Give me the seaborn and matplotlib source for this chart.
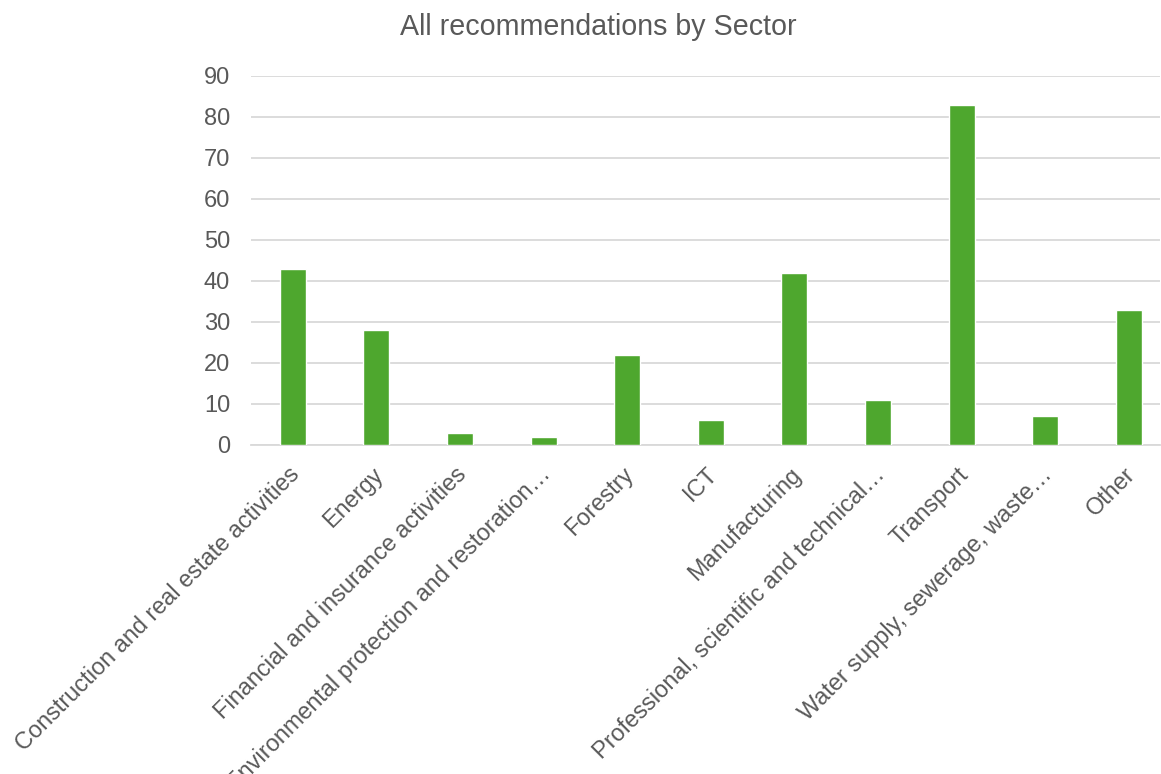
import matplotlib
matplotlib.use("Agg")
import matplotlib.pyplot as plt
import matplotlib.transforms as mtransforms
import seaborn as sns
import pandas as pd

sectors = [
    "Construction and real estate activities",
    "Energy",
    "Financial and insurance activities",
    "Environmental protection and restoration…",
    "Forestry",
    "ICT",
    "Manufacturing",
    "Professional, scientific and technical…",
    "Transport",
    "Water supply, sewerage, waste…",
    "Other",
]
counts = [43, 28, 3, 2, 22, 6, 42, 11, 83, 7, 33]
y_ticks = [0, 10, 20, 30, 40, 50, 60, 70, 80, 90]

df = pd.DataFrame({"Sector": sectors, "Count": counts})

sns.set_theme(style="white")
plt.rcParams["font.family"] = ["Liberation Sans", "DejaVu Sans"]

text_color = "#595959"
grid_color = "#d9d9d9"
bar_color = "#4ea72e"
x_tick_size = 16.9
y_tick_size = 17

W, H = 1161, 774
fig = plt.figure(figsize=(W / 100, H / 100), dpi=100)
left, right, top, bottom = 251, 1160, 76, 445
ax = fig.add_axes([left / W, 1 - bottom / H, (right - left) / W, (bottom - top) / H])

sns.barplot(data=df, x="Sector", y="Count", color=bar_color, width=0.31,
            saturation=1, ax=ax, zorder=3)

ax.set_ylim(0, 90)
ax.set_xlim(-0.5, -0.5 + (right - left) / 83.6)
ax.set_yticks(y_ticks)
ax.yaxis.grid(True, color=grid_color, linewidth=1.3, zorder=0)
ax.set_axisbelow(True)
for s in ["top", "right", "left"]:
    ax.spines[s].set_visible(False)
ax.spines["bottom"].set_color(grid_color)
ax.spines["bottom"].set_linewidth(1.3)
ax.set_xlabel("")
ax.set_ylabel("")
ax.tick_params(axis="x", length=0, colors=text_color, labelsize=x_tick_size, pad=10)
ax.tick_params(axis="y", length=0, colors=text_color, labelsize=y_tick_size, pad=15)
ax.set_xticks(range(len(sectors)))
ax.set_xticklabels(sectors, rotation=45, ha="right", va="top",
                   rotation_mode="anchor", color=text_color, fontsize=x_tick_size)
shift = mtransforms.ScaledTranslation(-5 / 100, -4 / 100, fig.dpi_scale_trans)
for lbl in ax.get_xticklabels():
    lbl.set_transform(lbl.get_transform() + shift)
for lbl in ax.get_yticklabels():
    lbl.set_color(text_color)

fig.text(598 / W, 1 - 27 / H, "All recommendations by Sector", ha="center",
         va="center", fontsize=20.6, color=text_color)

fig.savefig("out.png", dpi=100)
